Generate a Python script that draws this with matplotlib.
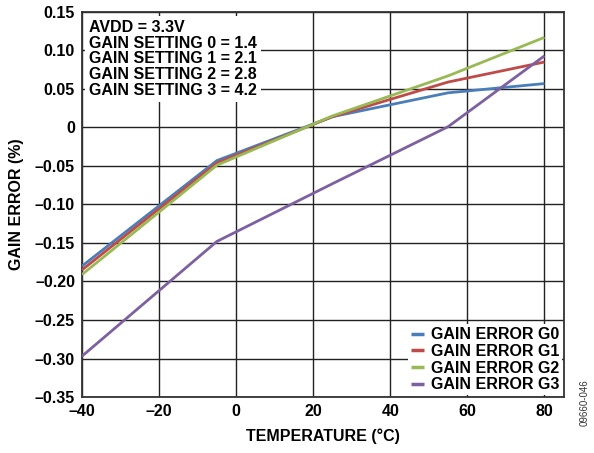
import matplotlib
matplotlib.use("Agg")
import matplotlib.pyplot as plt

plt.rcParams['font.family'] = ['Liberation Sans', 'DejaVu Sans']
plt.rcParams['font.weight'] = 'bold'
plt.rcParams['axes.unicode_minus'] = False

# temperatures and gain error curves (%)
temp = [-40, -5, 25, 55, 80]
g0 = [-0.180, -0.043, 0.014, 0.045, 0.057]
g1 = [-0.185, -0.046, 0.014, 0.059, 0.085]
g2 = [-0.191, -0.049, 0.015, 0.067, 0.117]
g3 = [-0.297, -0.148, -0.073, 0.001, 0.093]

labels = ["GAIN ERROR G0", "GAIN ERROR G1", "GAIN ERROR G2", "GAIN ERROR G3"]
colors = ["#4a7ebb", "#be4b48", "#98b954", "#7d60a0"]

xticks = [-40, -20, 0, 20, 40, 60, 80]
yticks = [0.15, 0.10, 0.05, 0, -0.05, -0.10, -0.15, -0.20, -0.25, -0.30, -0.35]
ytick_labels = ["0.15", "0.10", "0.05", "0", "–0.05", "–0.10", "–0.15",
                "–0.20", "–0.25", "–0.30", "–0.35"]
xtick_labels = ["–40", "–20", "0", "20", "40", "60", "80"]

fs = 11.5

fig = plt.figure(figsize=(5.94, 4.53), dpi=100)
ax = fig.add_axes([0.138, 0.1236, 0.811, 0.85])

for y, lab, c in zip([g0, g1, g2, g3], labels, colors):
    ax.plot(temp, y, color=c, lw=2.0, label=lab, solid_capstyle='butt', zorder=3)

ax.set_xlim(-40, 85)
ax.set_ylim(-0.35, 0.15)
ax.set_xticks(xticks)
ax.set_xticklabels(xtick_labels)
ax.set_yticks(yticks)
ax.set_yticklabels(ytick_labels)
ax.tick_params(length=0, labelsize=fs, pad=5)
ax.grid(True, color="#222222", lw=1.0)
ax.set_axisbelow(True)
for s in ax.spines.values():
    s.set_color("#333333")
    s.set_linewidth(1.3)

ax.set_xlabel("TEMPERATURE (°C)", fontsize=fs, fontweight='bold', labelpad=7)
ax.set_ylabel("GAIN ERROR (%)", fontsize=fs, fontweight='bold', labelpad=8)

ax.text(0.015, 0.98,
        "AVDD = 3.3V\nGAIN SETTING 0 = 1.4\nGAIN SETTING 1 = 2.1\n"
        "GAIN SETTING 2 = 2.8\nGAIN SETTING 3 = 4.2",
        transform=ax.transAxes, ha='left', va='top', fontsize=fs,
        fontweight='bold', linespacing=1.07, zorder=5,
        bbox=dict(facecolor='white', edgecolor='none', pad=3))

leg = ax.legend(loc='lower right', fontsize=fs, frameon=True, fancybox=False,
                framealpha=1, edgecolor='none', borderaxespad=0.1,
                handlelength=0.8, handletextpad=0.4, labelspacing=0.1,
                borderpad=0.2)
leg.get_frame().set_linewidth(0)
for line in leg.get_lines():
    line.set_linewidth(2.5)

fig.text(0.985, 0.06, "09660-046", rotation=90, fontsize=7, fontweight='normal',
         color="#333333", ha='center', va='bottom')

plt.savefig("out.png", dpi=100)
